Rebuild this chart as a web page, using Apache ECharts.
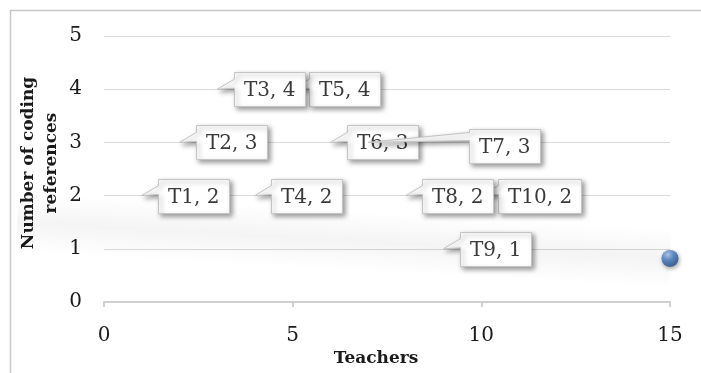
<!DOCTYPE html>
<html>
<head>
<meta charset="utf-8">
<script src="https://cdn.jsdelivr.net/npm/echarts@6/dist/echarts.min.js"></script>
<style>
  html, body { margin: 0; padding: 0; background: #fff; }
  #chart { width: 701px; height: 373px; }
</style>
</head>
<body>
<div id="chart"></div>
<script>
// Coding references per teacher
const teachers = ['T1', 'T2', 'T3', 'T4', 'T5', 'T6', 'T7', 'T8', 'T9', 'T10'];
const teacherNumber = [1, 2, 3, 4, 5, 6, 7, 8, 9, 10];
const codingReferences = [2, 3, 4, 2, 4, 3, 3, 2, 1, 2];

// Lone marker at the far right of the plot
const markerX = [15];
const markerY = [0.82];

// Soft shadow trail running into the marker
const trailX = [-2.3, 15];
const trailY = [1.5, 0.82];

// Axis ticks
const xTicks = [0, 5, 10, 15];
const yTicks = [0, 1, 2, 3, 4, 5];

// Callout placement (box left offset from the point, box centre offset in y)
const calloutDx = [16.5, 16.5, 16.5, 16.5, 16.5, 16.5, 101, 16.5, 16.5, 16.5];
const calloutDy = [0, 0, 0, 0, 0, 0, 3.5, 0, 0, 0];
// Stacking order of the callouts (higher is drawn on top)
const calloutZ = [1, 2, 6, 4, 3, 5, 7, 9, 10, 8];

const LABEL_FONT = '20px "DejaVu Serif"';
const measureCtx = document.createElement('canvas').getContext('2d');
measureCtx.font = LABEL_FONT;
function textWidth(s) { return measureCtx.measureText(s).width; }

const calloutData = teacherNumber.map((x, i) => [x, codingReferences[i], i]);

function renderCallout(params, api) {
  const i = api.value(2);
  const p = api.coord([api.value(0), api.value(1)]);
  const text = teachers[i] + ', ' + codingReferences[i];
  const w = Math.round(textWidth(text) + 19);
  const h = 34;
  const L = Math.round(p[0] + calloutDx[i]) + 0.5;
  const T = Math.round(p[1] + calloutDy[i] - h / 2) + 0.5;
  const R = L + w, B = T + h;
  const far = calloutDx[i] > 40;
  const baseTop = far ? T + 3 : p[1] - 10;
  const baseBot = far ? T + 11 : p[1] - 1;
  return {
    type: 'group',
    children: [
      {
        type: 'polygon',
        z2: calloutZ[i] * 2,
        shape: { points: [[L, T], [R, T], [R, B], [L, B], [L, baseBot], [p[0], p[1]], [L, baseTop]] },
        style: {
          fill: '#ffffff', stroke: '#c4c4c4', lineWidth: 1,
          shadowBlur: 5, shadowOffsetX: 2.5, shadowOffsetY: 2.5, shadowColor: 'rgba(0,0,0,0.4)'
        }
      },
      {
        type: 'text',
        z2: calloutZ[i] * 2 + 1,
        x: L + 9.5, y: T + h / 2 + 1,
        style: { text: text, font: LABEL_FONT, fill: '#3a3a3a', verticalAlign: 'middle', align: 'left' }
      }
    ]
  };
}

// A soft band: a rotated rectangle with a gradient across its width
function renderTrail(params, api) {
  if (params.dataIndex !== 0) return null;
  const a = api.coord([trailX[0], trailY[0]]);
  const b = api.coord([trailX[1], trailY[1]]);
  const len = Math.hypot(b[0] - a[0], b[1] - a[1]);
  const ang = Math.atan2(b[1] - a[1], b[0] - a[0]);
  const hw = 30;
  return {
    type: 'rect',
    x: a[0], y: a[1],
    rotation: -ang,
    shape: { x: 0, y: -hw, width: len, height: hw * 2 },
    style: {
      fill: new echarts.graphic.LinearGradient(0, 0, 0, 1, [
        { offset: 0, color: 'rgba(0,0,0,0)' },
        { offset: 0.5, color: 'rgba(0,0,0,0.045)' },
        { offset: 1, color: 'rgba(0,0,0,0)' }
      ])
    },
    silent: true
  };
}

const chart = echarts.init(document.getElementById('chart'), null, { renderer: 'canvas' });
chart.setOption({
  backgroundColor: '#ffffff',
  animation: false,
  graphic: [{
    type: 'rect',
    shape: { x: 10.5, y: 10.5, width: 760, height: 420 },
    style: { fill: 'none', stroke: '#c8c8c8', lineWidth: 1.5 },
    silent: true, z: -10
  }],
  grid: { left: 104, right: 31, top: 36, bottom: 71 },
  xAxis: {
    type: 'value', min: xTicks[0], max: xTicks[xTicks.length - 1], interval: xTicks[1] - xTicks[0],
    name: 'Teachers', nameLocation: 'middle', nameGap: 48, nameMoveOverlap: false,
    nameTextStyle: { fontFamily: 'DejaVu Serif', fontWeight: 'bold', fontSize: 17, color: '#1a1a1a', padding: [0, 22, 0, 0] },
    axisLine: { show: true, lineStyle: { color: '#d0d0d0', width: 2 } },
    axisTick: { show: true, length: 5, lineStyle: { color: '#d0d0d0', width: 2 } },
    axisLabel: { fontFamily: 'DejaVu Serif', fontSize: 20, color: '#1a1a1a', margin: 24 },
    splitLine: { show: false }
  },
  yAxis: {
    type: 'value', min: yTicks[0], max: yTicks[yTicks.length - 1], interval: yTicks[1] - yTicks[0],
    name: 'Number of coding\nreferences', nameLocation: 'middle', nameGap: 41, nameRotate: 90, nameMoveOverlap: false,
    nameTextStyle: { fontFamily: 'DejaVu Serif', fontWeight: 'bold', fontSize: 17, color: '#1a1a1a', lineHeight: 23, align: 'center', padding: [0, 0, 0, 12] },
    axisLine: { show: false },
    axisTick: { show: false },
    axisLabel: { fontFamily: 'DejaVu Serif', fontSize: 20, color: '#1a1a1a', margin: 22 },
    splitLine: { show: true, lineStyle: { color: '#d9d9d9', width: 1 } }
  },
  series: [
    {
      type: 'custom',
      data: [[trailX[0], trailY[0]]],
      renderItem: renderTrail,
      clip: false,
      silent: true,
      z: 1
    },
    {
      type: 'custom',
      name: 'Coding references',
      data: calloutData,
      encode: { x: 0, y: 1 },
      renderItem: renderCallout,
      clip: false,
      z: 5
    },
    {
      type: 'scatter',
      data: markerX.map((x, i) => [x, markerY[i]]),
      symbol: 'circle',
      symbolSize: 17,
      itemStyle: {
        color: new echarts.graphic.RadialGradient(0.38, 0.3, 0.7, [
          { offset: 0, color: '#a9c6ee' },
          { offset: 0.45, color: '#4a7fc6' },
          { offset: 1, color: '#1f4d8e' }
        ]),
        shadowBlur: 4, shadowOffsetX: 1, shadowOffsetY: 2, shadowColor: 'rgba(0,0,0,0.45)'
      },
      z: 4
    }
  ]
});
</script>
</body>
</html>
